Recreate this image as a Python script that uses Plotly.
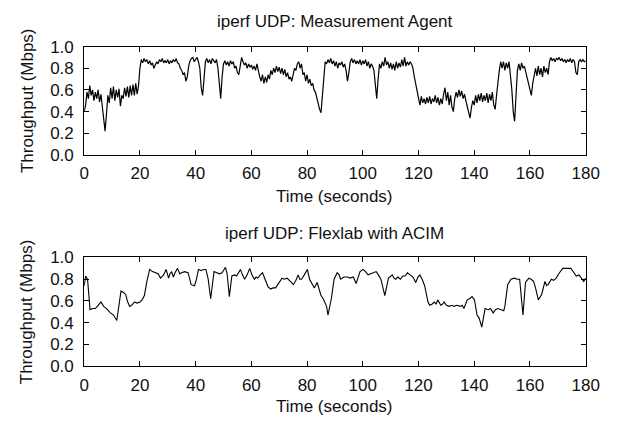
import numpy as np
import plotly.graph_objects as go

# ---- data -------------------------------------------------------------
# Top panel: Measurement Agent, sampled every 0.5 s (0 .. 180 s)
agent_time = np.arange(0, 180.5, 0.5)
agent_mbps = [
    0.40, 0.46, 0.58, 0.52, 0.64, 0.55, 0.60, 0.50, 0.58, 0.52, 0.60, 0.49, 0.56, 0.45, 0.30, 0.22, 0.38, 0.55, 0.48, 0.62,
    0.52, 0.63, 0.50, 0.60, 0.53, 0.61, 0.45, 0.55, 0.52, 0.62, 0.54, 0.63, 0.53, 0.64, 0.55, 0.65, 0.55, 0.66, 0.56, 0.64,
    0.80, 0.88, 0.85, 0.89, 0.86, 0.88, 0.84, 0.87, 0.83, 0.85, 0.80, 0.83, 0.86, 0.84, 0.88, 0.86, 0.89, 0.85, 0.87, 0.85,
    0.88, 0.84, 0.87, 0.85, 0.88, 0.86, 0.89, 0.85, 0.84, 0.80, 0.78, 0.74, 0.76, 0.68, 0.72, 0.82, 0.87, 0.89, 0.90, 0.86,
    0.88, 0.90, 0.86, 0.80, 0.62, 0.55, 0.70, 0.86, 0.89, 0.85, 0.88, 0.84, 0.89, 0.87, 0.85, 0.88, 0.80, 0.66, 0.52, 0.72,
    0.84, 0.87, 0.83, 0.86, 0.82, 0.87, 0.84, 0.86, 0.80, 0.82, 0.76, 0.74, 0.84, 0.90, 0.86, 0.83, 0.85, 0.80, 0.84, 0.81,
    0.83, 0.79, 0.82, 0.78, 0.84, 0.76, 0.72, 0.68, 0.74, 0.66, 0.72, 0.67, 0.74, 0.70, 0.78, 0.74, 0.80, 0.76, 0.82, 0.77,
    0.81, 0.75, 0.80, 0.74, 0.79, 0.72, 0.76, 0.70, 0.72, 0.68, 0.76, 0.80, 0.78, 0.84, 0.86, 0.80, 0.84, 0.74, 0.76, 0.68,
    0.74, 0.66, 0.70, 0.64, 0.66, 0.60, 0.58, 0.52, 0.48, 0.42, 0.39, 0.55, 0.78, 0.86, 0.84, 0.88, 0.85, 0.89, 0.84, 0.87,
    0.82, 0.86, 0.80, 0.85, 0.83, 0.86, 0.81, 0.84, 0.78, 0.68, 0.76, 0.86, 0.89, 0.85, 0.88, 0.84, 0.87, 0.84, 0.88, 0.83,
    0.87, 0.84, 0.88, 0.82, 0.86, 0.80, 0.84, 0.82, 0.78, 0.65, 0.52, 0.70, 0.84, 0.80, 0.86, 0.82, 0.90, 0.83, 0.86, 0.80,
    0.85, 0.79, 0.84, 0.78, 0.86, 0.80, 0.85, 0.81, 0.88, 0.82, 0.90, 0.82, 0.86, 0.83, 0.86, 0.84, 0.80, 0.72, 0.65, 0.58,
    0.50, 0.46, 0.54, 0.48, 0.52, 0.47, 0.53, 0.48, 0.54, 0.47, 0.52, 0.49, 0.55, 0.48, 0.53, 0.46, 0.52, 0.47, 0.56, 0.62,
    0.50, 0.58, 0.46, 0.55, 0.44, 0.40, 0.52, 0.58, 0.53, 0.60, 0.54, 0.59, 0.52, 0.56, 0.50, 0.45, 0.40, 0.34, 0.44, 0.50,
    0.46, 0.55, 0.48, 0.56, 0.50, 0.57, 0.49, 0.55, 0.50, 0.57, 0.48, 0.56, 0.50, 0.58, 0.46, 0.42, 0.55, 0.70, 0.78, 0.86,
    0.80, 0.86, 0.78, 0.85, 0.80, 0.86, 0.74, 0.60, 0.40, 0.31, 0.55, 0.78, 0.84, 0.78, 0.85, 0.80, 0.82, 0.76, 0.72, 0.64,
    0.58, 0.55, 0.66, 0.74, 0.80, 0.73, 0.82, 0.74, 0.80, 0.72, 0.82, 0.76, 0.80, 0.74, 0.86, 0.90, 0.87, 0.89, 0.86, 0.89,
    0.88, 0.90, 0.87, 0.89, 0.86, 0.88, 0.85, 0.88, 0.86, 0.89, 0.85, 0.88, 0.86, 0.76, 0.74, 0.86, 0.88, 0.86, 0.88, 0.86,
    0.87,
]

# Bottom panel: Flexlab with ACIM
acim_time = [
    0, 0.5, 1.2, 2.1, 3, 4, 5, 6, 7, 8, 9.4, 10.5, 11.7, 12.5, 13.2, 14, 14.9, 15.5, 16.3, 17, 18, 19, 20, 20.8, 21.6,
    22.5, 23.5, 24.5, 25.6, 26.5, 27.4, 28.5, 29.4, 30.3, 30.8, 31.4, 32, 32.6, 33.5, 34.3, 35, 36, 37.3, 38.4, 39.6,
    40.3, 41, 42, 43, 43.7, 44.5, 45.4, 46.6, 47.8, 48.5, 49.5, 50.7, 51.3, 52.1, 53, 54, 54.7, 55.4, 56.1, 56.8, 57.6,
    58.5, 59.4, 60.2, 61.1, 61.7, 62.3, 63.2, 64, 64.6, 65.2, 66, 66.9, 67.8, 68.7, 69.8, 71, 71.8, 72.8, 74, 75.1, 76,
    76.8, 77.4, 78, 79, 80.1, 80.9, 81.8, 82.6, 83.6, 84.3, 85, 85.8, 86.4, 87, 87.5, 88.7, 89.7, 90.8, 91.5, 92, 93.2,
    94.5, 95.5, 96.6, 97.6, 98.3, 99, 100.1, 101, 101.9, 103, 104, 104.8, 105.6, 106.5, 107.9, 109.2, 110.6, 111.2,
    111.8, 112.6, 113.5, 114.3, 115.2, 116, 117, 118, 119, 119.8, 120.5, 121.3, 122.2, 123.4, 124, 124.8, 125.7, 126.3,
    126.9, 128, 128.6, 129.2, 130, 131, 132, 132.7, 133.8, 135, 135.7, 136.3, 137.5, 138.3, 139.2, 140.1, 141, 141.8,
    142.7, 143.9, 145, 145.8, 146.8, 147.6, 148.5, 149.5, 150.6, 151, 152, 153.2, 154.4, 155.5, 156.3, 157.5, 158.4,
    159.6, 160.4, 161.3, 162, 163, 164.2, 165.4, 166, 166.5, 167.7, 168.5, 169.4, 170.6, 171.8, 173, 174.7, 175.8,
    176.6, 177.6, 178.7, 179.3, 180,
]
acim_mbps = [
    0.74, 0.83, 0.80, 0.52, 0.53, 0.53, 0.56, 0.59, 0.55, 0.53, 0.49, 0.47, 0.42, 0.55, 0.69, 0.68, 0.66, 0.60, 0.55,
    0.56, 0.59, 0.58, 0.59, 0.61, 0.65, 0.78, 0.89, 0.87, 0.86, 0.85, 0.81, 0.84, 0.89, 0.81, 0.85, 0.87, 0.82, 0.86,
    0.90, 0.85, 0.86, 0.87, 0.86, 0.75, 0.74, 0.80, 0.89, 0.88, 0.89, 0.89, 0.80, 0.62, 0.87, 0.86, 0.85, 0.86, 0.91,
    0.85, 0.64, 0.83, 0.84, 0.83, 0.86, 0.89, 0.84, 0.80, 0.84, 0.90, 0.84, 0.80, 0.82, 0.81, 0.84, 0.86, 0.82, 0.78,
    0.73, 0.71, 0.72, 0.72, 0.76, 0.81, 0.80, 0.81, 0.78, 0.75, 0.79, 0.84, 0.80, 0.80, 0.84, 0.89, 0.80, 0.76, 0.72,
    0.77, 0.70, 0.65, 0.62, 0.59, 0.55, 0.47, 0.62, 0.80, 0.86, 0.84, 0.80, 0.82, 0.82, 0.81, 0.82, 0.76, 0.82, 0.87,
    0.89, 0.87, 0.84, 0.85, 0.86, 0.87, 0.84, 0.80, 0.65, 0.81, 0.84, 0.81, 0.80, 0.82, 0.80, 0.83, 0.83, 0.86, 0.84,
    0.82, 0.77, 0.82, 0.84, 0.80, 0.74, 0.59, 0.56, 0.57, 0.59, 0.57, 0.61, 0.56, 0.57, 0.59, 0.56, 0.55, 0.56, 0.55,
    0.56, 0.55, 0.56, 0.53, 0.61, 0.62, 0.64, 0.61, 0.47, 0.44, 0.36, 0.53, 0.52, 0.53, 0.49, 0.52, 0.53, 0.52, 0.51,
    0.55, 0.75, 0.80, 0.81, 0.80, 0.80, 0.47, 0.77, 0.81, 0.80, 0.78, 0.72, 0.61, 0.66, 0.78, 0.74, 0.75, 0.80, 0.79,
    0.81, 0.86, 0.90, 0.90, 0.90, 0.86, 0.83, 0.84, 0.80, 0.78, 0.81,
]

titles = ["iperf UDP: Measurement Agent", "iperf UDP: Flexlab with ACIM"]
x_ticks = [0, 20, 40, 60, 80, 100, 120, 140, 160, 180]
y_ticks = [0.0, 0.2, 0.4, 0.6, 0.8, 1.0]
x_label = "Time (seconds)"
y_label = "Throughput (Mbps)"

# ---- layout geometry ---------------------------------------------------
W, H = 621, 429
FONT = "Liberation Sans, Arial, Helvetica, sans-serif"
HS = 17   # horizontal text size
x_dom = [81.7 / W, 599 / W]
top_dom = [1 - 152.7 / H, 1 - 39.3 / H]
bot_dom = [1 - 373.7 / H, 1 - 260 / H]

fig = go.Figure()
fig.add_trace(go.Scatter(x=agent_time, y=agent_mbps, mode="lines",
                         line=dict(color="black", width=1.2), xaxis="x", yaxis="y", showlegend=False))
fig.add_trace(go.Scatter(x=acim_time, y=acim_mbps, mode="lines",
                         line=dict(color="black", width=1.1), xaxis="x2", yaxis="y2", showlegend=False))

axis_common = dict(showline=True, linecolor="black", linewidth=1, mirror="allticks",
                   ticks="inside", ticklen=5, tickcolor="black", tickwidth=1,
                   showgrid=False, zeroline=False,
                   tickfont=dict(family=FONT, size=HS, color="#111"))

fig.update_layout(
    width=W, height=H,
    margin=dict(l=0, r=0, t=0, b=0),
    paper_bgcolor="white", plot_bgcolor="white",
    font=dict(family=FONT, size=HS, color="#111"),
    xaxis=dict(domain=x_dom, range=[0, 180], tickvals=x_ticks, anchor="y",
               ticklabelstandoff=3, **axis_common),
    yaxis=dict(domain=top_dom, range=[0, 1], tickvals=y_ticks, tickformat=".1f", anchor="x",
               ticklabelstandoff=6, **axis_common),
    xaxis2=dict(domain=x_dom, range=[0, 180], tickvals=x_ticks, anchor="y2",
                ticklabelstandoff=3, **axis_common),
    yaxis2=dict(domain=bot_dom, range=[0, 1], tickvals=y_ticks, tickformat=".1f", anchor="x2",
                ticklabelstandoff=6, **axis_common),
)

xc = (x_dom[0] + x_dom[1]) / 2
ann = []
for title, ty, xly, yly in [(titles[0], 13, 196, 96), (titles[1], 235, 416, 317)]:
    ann.append(dict(text=title, x=xc, y=1 - ty / H, xref="paper", yref="paper",
                    showarrow=False, xanchor="center", yanchor="middle",
                    font=dict(family=FONT, size=HS, color="#111")))
    ann.append(dict(text=x_label, x=xc, y=1 - xly / H, xref="paper", yref="paper",
                    showarrow=False, xanchor="center", yanchor="middle",
                    font=dict(family=FONT, size=HS, color="#111")))
    ann.append(dict(text=y_label, x=23 / W, y=1 - yly / H, xref="paper", yref="paper",
                    showarrow=False, xanchor="center", yanchor="middle", textangle=-90,
                    font=dict(family=FONT, size=17, color="#111")))
fig.update_layout(annotations=ann)

fig.write_html("out.html")
